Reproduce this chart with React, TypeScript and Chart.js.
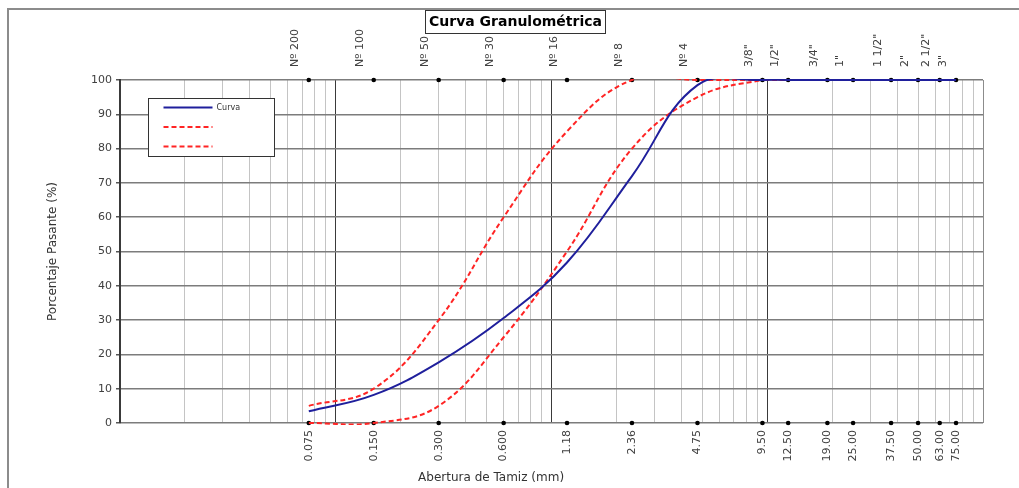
import React, { useEffect, useRef } from 'react';
import { Chart, registerables } from 'chart.js';
Chart.register(...registerables);

// ---- data ----
const sieveSizes = [0.075, 0.15, 0.3, 0.6, 1.18, 2.36, 4.75, 9.5, 12.5, 19, 25, 37.5, 50, 63, 75];
const sieveNames = ['Nº 200', 'Nº 100', 'Nº 50', 'Nº 30', 'Nº 16', 'Nº 8', 'Nº 4', '3/8"', '1/2"', '3/4"', '1"', '1 1/2"', '2"', '2 1/2"', '3"'];
const sizeLabels = ['0.075', '0.150', '0.300', '0.600', '1.18', '2.36', '4.75', '9.50', '12.50', '19.00', '25.00', '37.50', '50.00', '63.00', '75.00'];
const curva = [3.4, 8.2, 17.7, 30.6, 46.8, 72, 98.5, 100, 100, 100, 100, 100, 100, 100, 100];
const limiteSuperior = [5, 10, 30, 60, 85, 100, 100, 100, 100, 100, 100, 100, 100, 100, 100];
const limiteInferior = [0, 0, 5, 25, 50, 80, 95, 100, 100, 100, 100, 100, 100, 100, 100];
const yTicks = [0, 10, 20, 30, 40, 50, 60, 70, 80, 90, 100];
const gridDecades = [0.01, 0.1, 1, 10];
const gridMultipliers = [1, 2, 3, 4, 5, 6, 7, 8, 9];

const FONT = "'DejaVu Sans', sans-serif";

const toPts = (arr: number[]) => sieveSizes.map((x, i) => ({ x, y: arr[i] }));

const framePlugin = {
  id: 'frame',
  beforeDraw(chart: any) {
    const { ctx, width, height } = chart;
    ctx.save();
    ctx.fillStyle = '#fff';
    ctx.fillRect(0, 0, width, height);
    ctx.strokeStyle = '#8c8c8c';
    ctx.lineWidth = 2;
    ctx.beginPath();
    ctx.moveTo(8, height);
    ctx.lineTo(8, 9);
    ctx.lineTo(width, 9);
    ctx.stroke();
    ctx.restore();
  },
};

const titlePlugin = {
  id: 'boxTitle',
  afterDraw(chart: any) {
    const { ctx } = chart;
    ctx.save();
    ctx.fillStyle = '#fff';
    ctx.fillRect(425.5, 10.5, 180, 23);
    ctx.strokeStyle = '#333';
    ctx.lineWidth = 1;
    ctx.strokeRect(425.5, 10.5, 180, 23);
    ctx.fillStyle = '#000';
    ctx.font = `bold 14px ${FONT}`;
    ctx.textAlign = 'center';
    ctx.textBaseline = 'middle';
    ctx.fillText('Curva Granulométrica', 515.5, 22.5);
    ctx.restore();
  },
};

const xTitlePlugin = {
  id: 'xTitle',
  afterDraw(chart: any) {
    const { ctx, chartArea } = chart;
    ctx.save();
    ctx.fillStyle = '#333';
    ctx.font = `12px ${FONT}`;
    ctx.textAlign = 'center';
    ctx.textBaseline = 'middle';
    ctx.fillText('Abertura de Tamiz (mm)', chartArea.left + 0.43 * (chartArea.right - chartArea.left), 478);
    ctx.restore();
  },
};

const legendPlugin = {
  id: 'boxLegend',
  afterDatasetsDraw(chart: any) {
    const { ctx, chartArea } = chart;
    const bx = chartArea.left + 28.5;
    const by = chartArea.top + 18.5;
    ctx.save();
    ctx.fillStyle = '#fff';
    ctx.fillRect(bx, by, 126, 58);
    ctx.strokeStyle = '#333';
    ctx.lineWidth = 1;
    ctx.strokeRect(bx, by, 126, 58);
    const ds = chart.data.datasets.slice(0, 3);
    ds.forEach((d: any, i: number) => {
      const y = by + 9 + i * 19.5;
      ctx.strokeStyle = d.borderColor;
      ctx.lineWidth = d.borderWidth;
      ctx.setLineDash(d.borderDash || []);
      ctx.beginPath();
      ctx.moveTo(bx + 15, y);
      ctx.lineTo(bx + 64, y);
      ctx.stroke();
      ctx.setLineDash([]);
      if (d.label) {
        ctx.fillStyle = '#333';
        ctx.font = `8px ${FONT}`;
        ctx.textAlign = 'left';
        ctx.textBaseline = 'middle';
        ctx.fillText(d.label, bx + 68, y);
      }
    });
    ctx.restore();
  },
};

const lineClip = { left: 2, right: 2, top: 1, bottom: 2 };

export default function App() {
  const ref = useRef<HTMLCanvasElement>(null);
  useEffect(() => {
    document.body.style.margin = '0';
    document.body.style.overflow = 'hidden';
    const gridValues: number[] = [];
    gridDecades.forEach((d) => gridMultipliers.forEach((m) => gridValues.push(+(d * m).toPrecision(3))));
    gridValues.push(100);

    const chart = new Chart(ref.current as HTMLCanvasElement, {
      type: 'line',
      data: {
        datasets: [
          {
            label: 'Curva',
            data: toPts(curva),
            borderColor: '#1f1f9c',
            borderWidth: 2,
            pointRadius: 0,
            tension: 0.4,
            fill: false,
            clip: lineClip,
          },
          {
            label: '',
            data: toPts(limiteSuperior),
            borderColor: '#ff2424',
            borderWidth: 2,
            borderDash: [5, 3],
            pointRadius: 0,
            tension: 0.4,
            fill: false,
            clip: lineClip,
          },
          {
            label: '',
            data: toPts(limiteInferior),
            borderColor: '#ff2424',
            borderWidth: 2,
            borderDash: [5, 3],
            pointRadius: 0,
            tension: 0.4,
            fill: false,
            clip: lineClip,
          },
          {
            label: 'top',
            data: sieveSizes.map((x) => ({ x, y: 100 })),
            showLine: false,
            pointRadius: 2.3,
            pointBackgroundColor: '#000',
            pointBorderColor: '#000',
            pointBorderWidth: 0,
            clip: false,
          } as any,
          {
            label: 'bottom',
            data: sieveSizes.map((x) => ({ x, y: 0 })),
            showLine: false,
            pointRadius: 2.3,
            pointBackgroundColor: '#000',
            pointBorderColor: '#000',
            pointBorderWidth: 0,
            clip: false,
          } as any,
        ],
      },
      options: {
        responsive: false,
        animation: false,
        layout: { padding: { left: 40, right: 36, top: 0, bottom: 0 } },
        elements: { line: { capBezierPoints: false } },
        plugins: { legend: { display: false }, title: { display: false }, tooltip: { enabled: false } },
        scales: {
          xg: {
            type: 'logarithmic',
            position: 'bottom',
            min: 0.01,
            max: 100,
            afterBuildTicks: (s: any) => {
              s.ticks = gridValues.map((v) => ({ value: v }));
            },
            afterFit: (s: any) => {
              s.height = 0;
            },
            ticks: { display: false },
            border: { display: false },
            grid: {
              drawTicks: false,
              color: (c: any) => {
                const v = c.tick ? c.tick.value : 0;
                if (v >= 99) return '#8c8c8c';
                const l = Math.log10(v);
                return Math.abs(l - Math.round(l)) < 1e-6 ? '#3a3a3a' : '#c4c4c4';
              },
              lineWidth: 1,
            },
          },
          x: {
            type: 'logarithmic',
            position: 'bottom',
            min: 0.01,
            max: 100,
            afterBuildTicks: (s: any) => {
              s.ticks = sieveSizes.map((v) => ({ value: v }));
            },
            afterFit: (s: any) => {
              s.height = 65;
            },
            ticks: {
              autoSkip: false,
              minRotation: 90,
              maxRotation: 90,
              padding: 7,
              color: '#404040',
              font: { family: FONT, size: 11 },
              callback: (_v: any, i: number) => sizeLabels[i],
            },
            grid: { display: false, drawTicks: false },
            border: { display: false },
          },
          xt: {
            type: 'logarithmic',
            position: 'top',
            min: 0.01,
            max: 100,
            afterBuildTicks: (s: any) => {
              s.ticks = sieveSizes.map((v) => ({ value: v }));
            },
            afterFit: (s: any) => {
              s.height = 80;
            },
            ticks: {
              autoSkip: false,
              minRotation: 90,
              maxRotation: 90,
              padding: 13,
              color: '#404040',
              font: { family: FONT, size: 11 },
              callback: (_v: any, i: number) => sieveNames[i],
            },
            grid: { display: false, drawTicks: false },
            border: { display: false },
          },
          y: {
            type: 'linear',
            min: 0,
            max: 100,
            afterBuildTicks: (s: any) => {
              s.ticks = yTicks.map((v) => ({ value: v }));
            },
            afterFit: (s: any) => {
              s.width = 80;
            },
            ticks: {
              padding: 4,
              color: '#404040',
              font: { family: FONT, size: 11 },
            },
            grid: { color: '#7c7c7c', lineWidth: 1.5, tickLength: 4, tickColor: '#555' },
            border: { display: true, color: '#3a3a3a', width: 2 },
            title: {
              display: true,
              text: 'Porcentaje Pasante (%)',
              color: '#333',
              font: { family: FONT, size: 12 },
              padding: { top: 6, bottom: 0 },
            },
          },
        },
      },
      plugins: [framePlugin, titlePlugin, xTitlePlugin, legendPlugin],
    } as any);
    return () => chart.destroy();
  }, []);
  return (
    <div style={{ position: 'fixed', left: 0, top: 0, width: 1019, height: 488, background: '#fff', overflow: 'hidden' }}>
      <canvas ref={ref} width={1019} height={488} style={{ display: 'block', width: 1019, height: 488 }} />
    </div>
  );
}
